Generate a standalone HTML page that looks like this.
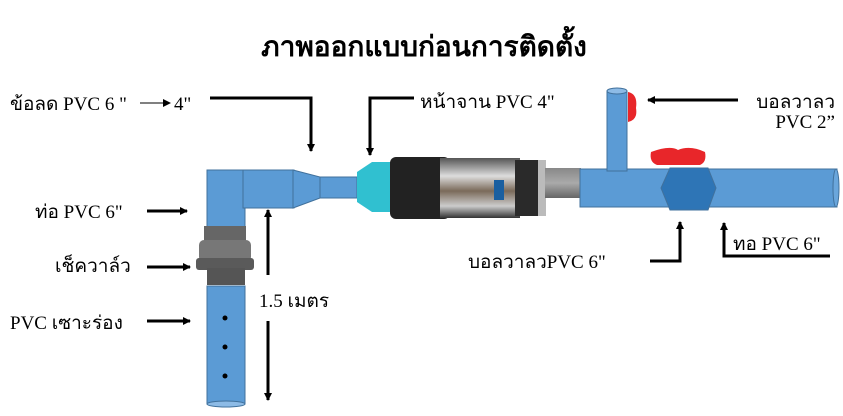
<!DOCTYPE html>
<html><head><meta charset="utf-8"><style>
html,body{margin:0;padding:0;background:#fff;}
svg{display:block;}
text{font-family:"Liberation Serif","Noto Serif CJK SC","Noto Sans CJK SC",serif;fill:#000;}
</style></head><body>
<svg width="843" height="416" viewBox="0 0 843 416" xmlns="http://www.w3.org/2000/svg">
<defs>
<marker id="ah" markerWidth="8" markerHeight="8" refX="7" refY="4" orient="auto" markerUnits="userSpaceOnUse"><path d="M0,0 L8,4 L0,8 z" fill="#000"/></marker>
<linearGradient id="steel" x1="0" y1="0" x2="0" y2="1"><stop offset="0" stop-color="#555"/><stop offset="0.3" stop-color="#ddd"/><stop offset="0.55" stop-color="#7a6a5a"/><stop offset="0.8" stop-color="#ccc"/><stop offset="1" stop-color="#333"/></linearGradient>
<linearGradient id="gray" x1="0" y1="0" x2="0" y2="1"><stop offset="0" stop-color="#888"/><stop offset="0.5" stop-color="#aaa"/><stop offset="1" stop-color="#666"/></linearGradient>
</defs>
<text x="424" y="56" font-size="28" font-weight="bold" text-anchor="middle">ภาพออกแบบก่อนการติดตั้ง</text>

<rect x="207" y="170" width="38" height="62" fill="#5b9bd5" stroke="#41719c"/>
<rect x="243" y="170" width="51" height="38" fill="#5b9bd5" stroke="#41719c"/>
<path d="M293,170 L320,177 L320,198 L293,208 Z" fill="#5b9bd5" stroke="#41719c"/>
<rect x="320" y="177" width="37" height="21" fill="#5b9bd5" stroke="#41719c"/>
<rect x="204" y="226" width="42" height="16" fill="#666"/>
<rect x="199" y="240" width="52" height="22" rx="5" fill="#777"/>
<rect x="196" y="258" width="58" height="12" rx="3" fill="#5a5a5a"/>
<rect x="207" y="268" width="38" height="17" fill="#555"/>
<rect x="207" y="286" width="38" height="118" fill="#5b9bd5" stroke="#41719c"/>
<ellipse cx="226" cy="404" rx="19" ry="3" fill="#8dbbe6" stroke="#41719c"/>
<circle cx="225" cy="318" r="2.5" fill="#000"/>
<circle cx="225" cy="347" r="2.5" fill="#000"/>
<circle cx="225" cy="376" r="2.5" fill="#000"/>

<path d="M357,172 L372,162 L392,162 L392,212 L372,212 L357,202 Z" fill="#30c0d0"/>
<rect x="390" y="157" width="60" height="62" rx="6" fill="#222"/>
<rect x="440" y="158" width="80" height="60" fill="url(#steel)"/>
<rect x="515" y="160" width="30" height="56" fill="#2a2a2a"/>
<rect x="538" y="160" width="8" height="56" fill="#bbb"/>
<rect x="494" y="180" width="10" height="20" fill="#1a5fa0"/>
<rect x="545" y="168" width="36" height="30" fill="url(#gray)"/>

<rect x="580" y="169" width="257" height="38" fill="#5b9bd5" stroke="#41719c"/>
<ellipse cx="836" cy="188" rx="3" ry="19" fill="#6aa6dc" stroke="#41719c"/>
<rect x="607" y="91" width="20" height="80" fill="#5b9bd5" stroke="#41719c"/>
<ellipse cx="617" cy="91" rx="10" ry="3" fill="#8dbbe6" stroke="#41719c"/>
<path d="M628,92 Q638,94 636,108 Q638,120 628,122 Z" fill="#e8262a"/>
<path d="M651,152 Q670,145 678,150 Q690,145 705,152 Q707,162 700,165 L657,165 Q649,162 651,152 Z" fill="#e8262a"/>
<path d="M670,168 L708,168 L716,188 L708,210 L670,210 L661,188 Z" fill="#2e75b6" stroke="#41719c"/>

<g font-size="19">
<text x="10" y="110">ข้อลด PVC 6 "</text>
<text x="174" y="110">4"</text>
<text x="420" y="108">หน้าจาน PVC 4"</text>
<text x="835" y="108" text-anchor="end">บอลวาลว</text>
<text x="835" y="128" text-anchor="end">PVC 2”</text>
<text x="468" y="268">บอลวาลวPVC 6"</text>
<text x="733" y="250">ทอ PVC 6"</text>
<text x="35" y="218">ท่อ PVC 6"</text>
<text x="55" y="272">เช็ควาล์ว</text>
<text x="10" y="329">PVC เซาะร่อง</text>
<text x="259" y="307">1.5 เมตร</text>
</g>
<g stroke="#000" stroke-width="3" fill="none">
<path d="M210,98 L311,98 L311,151" marker-end="url(#ah)"/>
<path d="M414,98 L370,98 L370,155" marker-end="url(#ah)"/>
<path d="M738,100 L648,100" marker-end="url(#ah)"/>
<path d="M650,261 L680,261 L680,222" marker-end="url(#ah)"/>
<path d="M830,256 L724,256 L724,223" marker-end="url(#ah)"/>
<path d="M147,211 L187,211" marker-end="url(#ah)"/>
<path d="M147,267 L190,267" marker-end="url(#ah)"/>
<path d="M147,321 L190,321" marker-end="url(#ah)"/>
<path d="M268,275 L268,210" marker-end="url(#ah)"/>
<path d="M268,321 L268,400" marker-end="url(#ah)"/>
</g>
<path d="M140,103 L170,103" stroke="#000" stroke-width="1" marker-end="url(#ah)"/>
</svg>
</body></html>
